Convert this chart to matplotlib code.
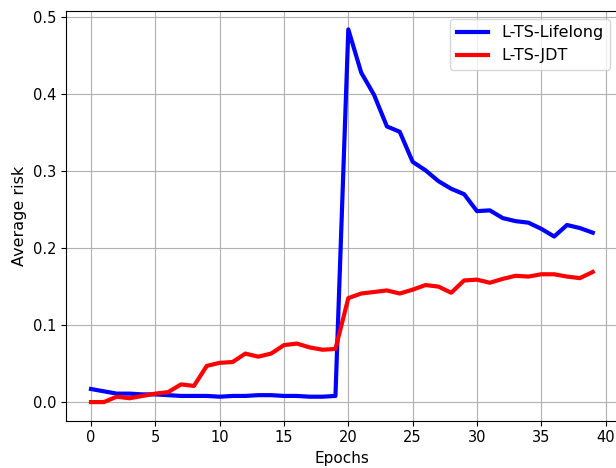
import numpy as np
from matplotlib import pyplot as plt

# Values, one per epoch 0..39
epochs = np.arange(40)
lifelong = [0.017, 0.014, 0.011, 0.011, 0.010, 0.010, 0.009, 0.008, 0.008, 0.008,
            0.007, 0.008, 0.008, 0.009, 0.009, 0.008, 0.008, 0.007, 0.007, 0.008,
            0.484, 0.428, 0.399, 0.358, 0.351, 0.312, 0.301, 0.287, 0.277, 0.270,
            0.248, 0.249, 0.239, 0.235, 0.233, 0.225, 0.215, 0.230, 0.226, 0.220]
jdt = [0.000, 0.000, 0.007, 0.005, 0.008, 0.011, 0.013, 0.023, 0.021, 0.047,
       0.051, 0.052, 0.063, 0.059, 0.063, 0.074, 0.076, 0.071, 0.068, 0.069,
       0.135, 0.141, 0.143, 0.145, 0.141, 0.146, 0.152, 0.150, 0.142, 0.158,
       0.159, 0.155, 0.160, 0.164, 0.163, 0.166, 0.166, 0.163, 0.161, 0.169]

figure = plt.figure(figsize=(6.16, 4.68), dpi=100)
axes = figure.add_subplot(111)
figure.subplots_adjust(left=0.107, right=1.003, bottom=0.101, top=0.977)

axes.plot(epochs, lifelong, 'b-', linewidth=3, label='L-TS-Lifelong')
axes.plot(epochs, jdt, 'r-', linewidth=3, label='L-TS-JDT')
axes.set_xlabel('Epochs', fontsize=11)
axes.set_ylabel('Average risk', fontsize=11.5)
axes.tick_params(labelsize=10.5)
axes.grid(True)
axes.legend(loc='upper right', fontsize=11.5)

figure.savefig('out.png', dpi=100)
